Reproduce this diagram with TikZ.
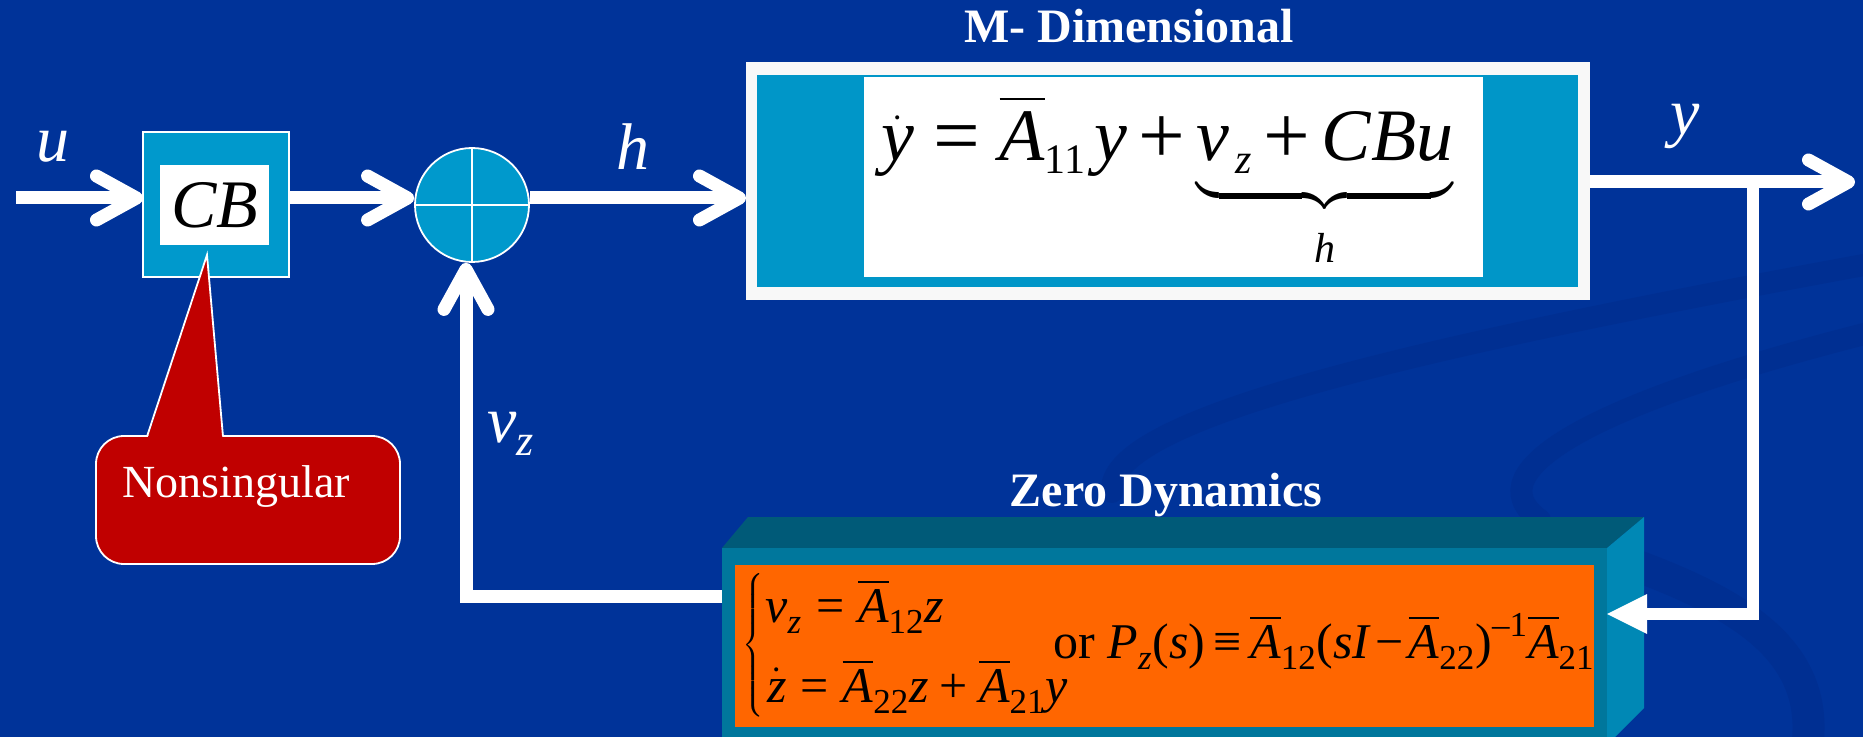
\documentclass[tikz,border=0pt]{standalone}
\usepackage{amsmath}
\usepackage{graphicx}
\usepackage{fontspec}
\setmainfont{Liberation Serif}
\usetikzlibrary{arrows.meta,calc}
\DeclareMathSizes{37}{37}{21}{16}
\DeclareMathSizes{25}{25}{17.5}{13}
\DeclareMathSizes{34}{34}{24}{17}
\DeclareMathSizes{33}{33}{22}{16}
\newcommand\vi[1]{\text{\itshape #1}}
\newcommand\ops[1]{\text{\upshape #1}}
\newcommand\Eq{\mathrel{\ops{=}}}
\newcommand\Pl{\mathbin{\ops{+}}}
\newcommand\Mi{\mathbin{\ops{−}}}
\newcommand\Eqv{\mathrel{\ops{≡}}}
\newcommand\EqM{\mathrel{\mskip2mu\text{\raisebox{-0.035em}{\scalebox{1.12}{=}}}\mskip2mu}}
\newcommand\PlM{\mathbin{\text{\raisebox{-0.035em}{\scalebox{1.12}{+}}}}}
\newcommand\sbd[1]{_{\text{\upshape\raisebox{-0.12em}{#1}}}}
\newcommand\sbi[1]{_{\text{\itshape\raisebox{-0.12em}{#1}}}}
\newcommand\Ab{\overline{\vi{A}}}
\newcommand\Abt{\overline{\rule{0pt}{0.75em}\vi{A}}}
\definecolor{bg}{RGB}{0,51,153}
\definecolor{swirlc}{RGB}{0,47,146}
\definecolor{cyanbox}{RGB}{0,153,204}
\definecolor{mdcyan}{RGB}{0,150,200}
\definecolor{framew}{RGB}{248,248,248}
\definecolor{calloutred}{RGB}{192,0,0}
\definecolor{zdtop}{RGB}{0,90,120}
\definecolor{zdfront}{RGB}{0,119,156}
\definecolor{zdside}{RGB}{0,136,181}
\definecolor{zdorange}{RGB}{255,102,0}
\begin{document}
\begin{tikzpicture}[x=0.5pt,y=-0.5pt,
  conn/.style={draw=white,line width=6.5pt,-{Straight Barb[length=20pt,width=22pt,round]}},
  fbconn/.style={draw=white,line width=6pt,-{Triangle[length=20pt,width=20pt,line width=0pt]}},
  lab/.style={text=white,font=\fontsize{33}{40}\selectfont,inner sep=0pt},
  title/.style={text=white,font=\fontsize{24}{29}\selectfont\bfseries,inner sep=0pt},
  zdeq/.style={anchor=base west,inner sep=0pt,font=\fontsize{25}{30}\selectfont},
  plainbox/.style={rectangle,inner sep=0pt,outer sep=0pt},
  swirl/.style={draw=swirlc,line width=11pt,line cap=round}]
\useasboundingbox (0,0) rectangle (1863,737);
\clip (0,0) rectangle (1863,737);
\fill[bg] (0,0) rectangle (1863,737);
% background swirls
\draw[swirl] (1112,492) .. controls (1105,420) and (1400,350) .. (1880,262);
\draw[swirl] (1540,520) .. controls (1470,470) and (1600,400) .. (1880,330);
\draw[swirl,line width=16pt] (1560,540) .. controls (1720,590) and (1830,640) .. (1805,760);
% CB block
\node[plainbox,fill=cyanbox,draw=white,line width=0.9pt,minimum width=73pt,minimum height=72.5pt] (cb) at (216,204.5) {};
\node[plainbox,fill=white,minimum width=54.5pt,minimum height=40pt,font=\fontsize{34}{40}\selectfont] (cbin) at (214.5,205) {$\vi{CB}$};
% summing junction
\node[circle,fill=cyanbox,draw=white,line width=0.9pt,minimum size=57pt,inner sep=0pt] (sum) at (472,205) {};
\draw[white,line width=0.9pt] (sum.north) -- (sum.south) (sum.west) -- (sum.east);
% M-dimensional block
\node[plainbox,fill=framew,minimum width=422pt,minimum height=119pt] (md) at (1168,181) {};
\node[plainbox,fill=mdcyan,minimum width=410.5pt,minimum height=106pt] (mdin) at (1167.5,181) {};
\node[plainbox,fill=white,minimum width=309.5pt,minimum height=100pt] (mdeq) at (1173.5,177) {};
\node[anchor=base west,inner sep=0pt,font=\fontsize{37}{44}\selectfont] (mdtext) at (881,161)
  {$\dot{\vi{y}} \EqM \Abt\sbd{11}\mskip3mu\vi{y} \PlM \underbrace{\vi{v}\sbi{\hspace{0.15em}z} \PlM \vi{CBu}\rule[-0.35em]{0pt}{0pt}}_{\vi{\rule{0pt}{1.18em}h}}$};
\node[title,anchor=base] (mdtitle) at (1129,43) {M- Dimensional};
% Zero dynamics block
\fill[zdtop] (722,548) -- (748,517) -- (1644,517) -- (1607,548) -- cycle;
\node[plainbox,fill=zdfront,minimum width=442.5pt,minimum height=98.5pt] (zd) at (1164.5,646.5) {};
\fill[zdside] (1607,548) -- (1644,517) -- (1644,708) -- (1607,745) -- cycle;
\node[plainbox,fill=zdorange,minimum width=429.5pt,minimum height=81pt] (zdin) at (1164.5,646) {};
\node[anchor=west,inner sep=0pt,font=\fontsize{12}{14}\selectfont] (zdbrace) at (742,645)
  {$\delimitershortfall=0pt\delimiterfactor=1000\left\{\vcenter{\hbox{\rule{0pt}{70pt}}}\right.$};
\node[zdeq] (zdl1) at (765,622) {$\vi{v}\sbi{z} \Eq \Ab\sbd{12}\vi{z}$};
\node[zdeq] (zdl2) at (767,702) {$\dot{\vi{z}} \Eq \Ab\sbd{22}\vi{z}\Pl\Ab\sbd{21}\vi{y}$};
\node[zdeq] (zdtf) at (1053,658)
  {or $\thickmuskip=3mu\medmuskip=2mu \vi{P}\sbi{z}\ops{(}\vi{s}\ops{)}\Eqv\Ab\sbd{12}\ops{(}\vi{sI}\Mi\Ab\sbd{22}\ops{)}^{\ops{–1}}\Ab\sbd{21}$};
\node[title,anchor=base] (zdtitle) at (1166,506) {Zero Dynamics};
% callout
\node[plainbox,fill=calloutred,draw=white,line width=0.9pt,rounded corners=14pt,minimum width=152pt,minimum height=64pt] (ns) at (248,500) {};
\fill[calloutred] (147,440) -- (207,255) -- (223,440) -- cycle;
\draw[white,line width=0.9pt] (147,436.5) -- (207,255) -- (223,436.5);
\node[anchor=base west,inner sep=0pt,text=white,font=\fontsize{23}{28}\selectfont] (nstext) at (122,497) {Nonsingular};
% labels
\node[lab] (ulab) at (53,147) {$\vi{u}$};
\node[lab] (hlab) at (633,147) {$\vi{h}$};
\node[lab] (vzlab) at (511,434) {$\vi{v}\sbi{z}$};
\node[lab] (ylab) at (1685,126) {$\vi{y}$};
% connectors
\coordinate (uin) at (16,198);
\coordinate (yout) at (1855,182);
\coordinate (br) at (1753,182);
\coordinate (fb) at (1753,614);
\coordinate (vzc) at (466,596);
\draw[conn] (uin) -- (cb.west |- uin);
\draw[conn] (cb.east |- uin) -- (sum.west |- uin);
\draw[conn] (sum.east |- uin) -- (md.west |- uin);
\draw[conn] (md.east |- yout) -- (yout);
\draw[fbconn] (br) -- (fb) -- (zd.east |- fb);
\draw[conn] (zd.west |- vzc) -- (vzc) -- (vzc |- sum.south);
\end{tikzpicture}
\end{document}
